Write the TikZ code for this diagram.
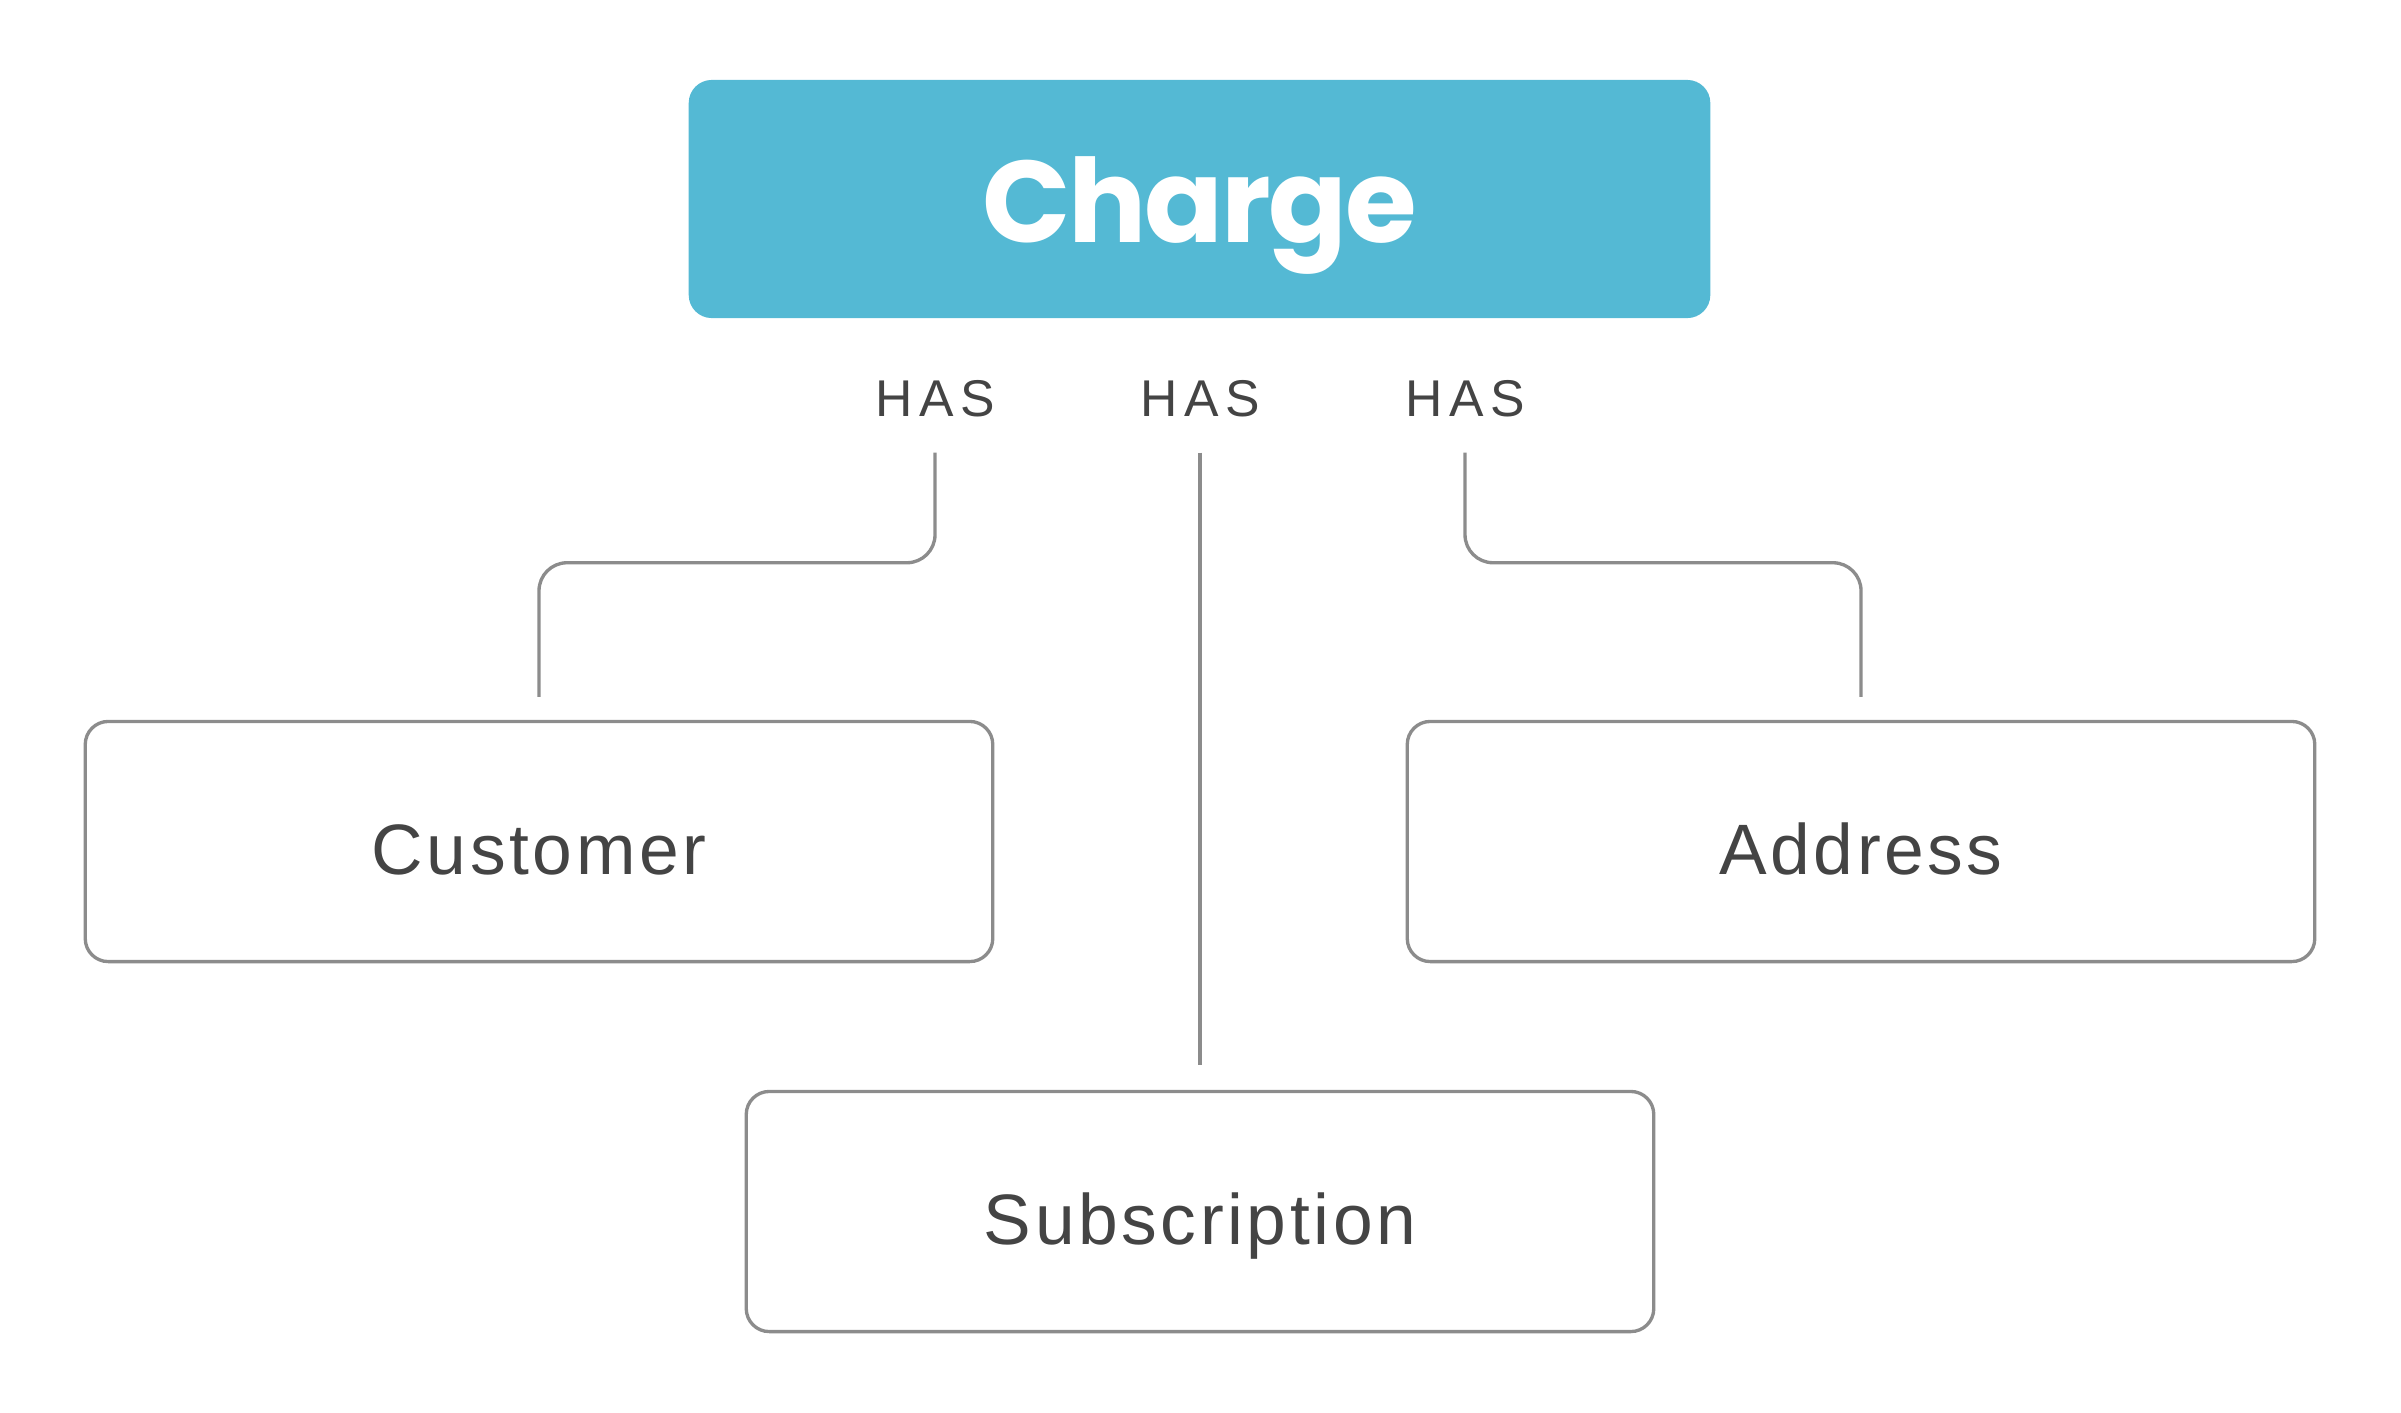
\documentclass[tikz,border=0pt]{standalone}
\usepackage{fontspec}
\setmainfont{Liberation Sans}
\newfontfamily\titlefont{Poppins}[LetterSpace=-2]
\newfontfamily\entfont{Liberation Sans}[LetterSpace=5]
\newfontfamily\hasfont{Liberation Sans}[LetterSpace=13]
\usetikzlibrary{positioning}
\definecolor{chargeblue}{HTML}{54B9D4}
\definecolor{textgrey}{HTML}{444444}
\definecolor{linegrey}{HTML}{8C8C8C}

\begin{document}
\begin{tikzpicture}[x=0.01cm,y=-0.01cm,
  every node/.style={text=textgrey,inner sep=0pt},
  head/.style={fill=chargeblue,rounded corners=0.23cm,minimum width=10.21cm,minimum height=2.38cm,text=white,text height=0.87cm,text depth=0pt,font=\titlefont\bfseries\fontsize{33}{38}\selectfont},
  ent/.style={draw=linegrey,line width=0.95pt,rounded corners=0.23cm,minimum width=9.07cm,minimum height=2.40cm,text height=0.65cm,text depth=0pt,font=\entfont\fontsize{20.3}{24}\selectfont},
  has/.style={text height=0.37cm,text depth=0pt,font=\hasfont\fontsize{14.7}{18}\selectfont},
  link/.style={draw=linegrey,line width=0.95pt,rounded corners=0.28cm}]
\useasboundingbox (0,0) rectangle (2401,1412);
\node[head] (charge) at (1199.5,199) {Charge};
\node[has] (has1) at (935,397.5) {HAS};
\node[has] (has2) at (1200,397.5) {HAS};
\node[has] (has3) at (1465,397.5) {HAS};
\node[ent] (cust) at (539,841.5) {Customer};
\node[ent] (addr) at (1861,841.5) {Address};
\node[ent] (sub) at (1200,1211.5) {Subscription};
\draw[link] ([yshift=-0.36cm]has1.south) -- ++(0,110) -| ([yshift=0.23cm]cust.north);
\draw[link] ([yshift=-0.36cm]has2.south) -- ([yshift=0.25cm]sub.north);
\draw[link] ([yshift=-0.36cm]has3.south) -- ++(0,110) -| ([yshift=0.23cm]addr.north);
\end{tikzpicture}
\end{document}
